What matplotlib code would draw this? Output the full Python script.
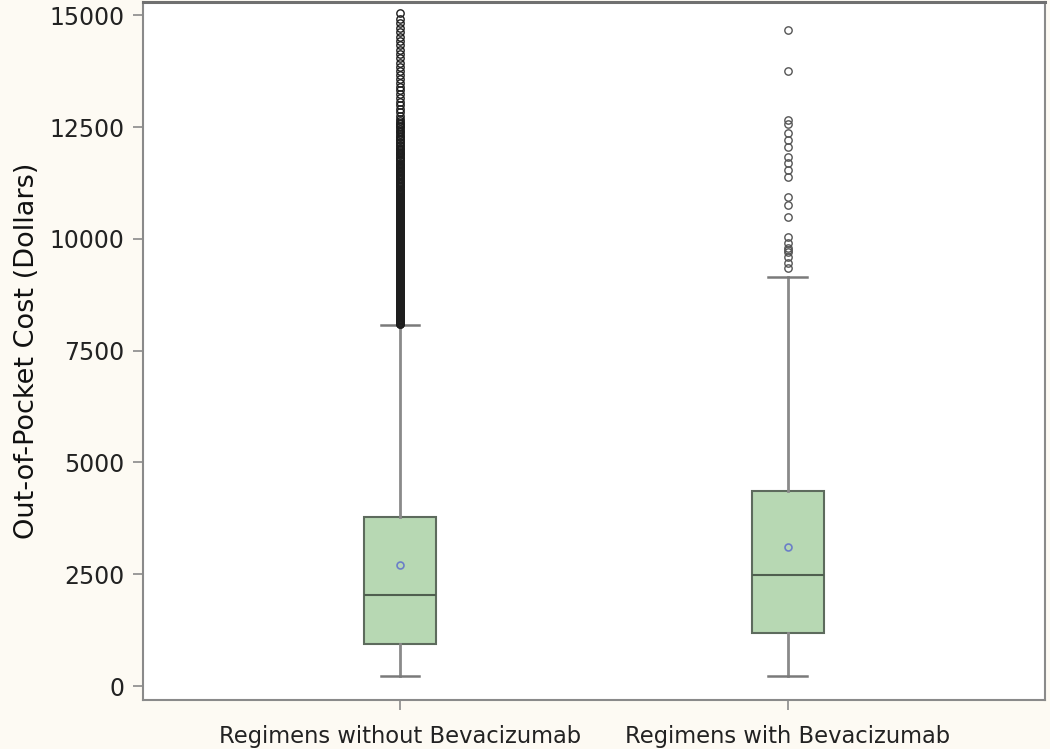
import matplotlib
matplotlib.use("Agg")
import matplotlib.pyplot as plt

categories = ["Regimens without Bevacizumab", "Regimens with Bevacizumab"]
q1 = [930, 1180]
median = [2035, 2480]
q3 = [3785, 4365]
mean = [2705, 3115]
whisker_low = [225, 225]
whisker_high = [8070, 9145]

outliers_without = [
    8085, 8095, 8110, 8125, 8140, 8160, 8175, 8190, 8200, 8215, 8230, 8250, 8265, 8280,
    8290, 8305, 8320, 8335, 8350, 8370, 8385, 8395, 8410, 8425, 8440, 8455, 8470, 8485,
    8500, 8520, 8535, 8545, 8560, 8575, 8590, 8610, 8625, 8640, 8650, 8665, 8680, 8695,
    8710, 8730, 8745, 8755, 8770, 8785, 8800, 8815, 8830, 8845, 8860, 8880, 8895, 8905,
    8920, 8935, 8950, 8970, 8985, 8995, 9010, 9025, 9040, 9055, 9070, 9085, 9100, 9120,
    9135, 9145, 9160, 9175, 9190, 9210, 9225, 9240, 9250, 9265, 9280, 9295, 9310, 9330,
    9345, 9355, 9370, 9385, 9400, 9415, 9430, 9445, 9460, 9480, 9495, 9505, 9520, 9535,
    9550, 9570, 9585, 9600, 9610, 9625, 9640, 9655, 9670, 9685, 9700, 9720, 9735, 9745,
    9760, 9775, 9790, 9810, 9825, 9840, 9850, 9865, 9880, 9895, 9910, 9930, 9945, 9955,
    9970, 9985, 10000, 10015, 10030, 10045, 10060, 10080, 10095, 10105, 10120, 10135,
    10150, 10170, 10185, 10200, 10210, 10225, 10240, 10255, 10270, 10285, 10300, 10320,
    10335, 10345, 10360, 10375, 10390, 10410, 10425, 10440, 10450, 10465, 10480, 10495,
    10510, 10530, 10545, 10555, 10570, 10585, 10600, 10620, 10640, 10660, 10680, 10695,
    10710, 10730, 10750, 10770, 10790, 10810, 10830, 10845, 10860, 10880, 10900, 10920,
    10940, 10960, 10980, 11000, 11020, 11040, 11060, 11080, 11100, 11125, 11150, 11170,
    11190, 11215, 11240, 11260, 11280, 11305, 11330, 11350, 11370, 11395, 11420, 11440,
    11460, 11485, 11510, 11535, 11560, 11580, 11600, 11625, 11650, 11675, 11700, 11730,
    11760, 11785, 11810, 11840, 11870, 11895, 11920, 11950, 11980, 12010, 12040, 12070,
    12100, 12135, 12170, 12205, 12240, 12270, 12300, 12340, 12380, 12415, 12450, 12490,
    12530, 12565, 12600, 12640, 12680, 12750, 12830, 12900, 12990, 13070, 13150, 13240,
    13320, 13400, 13490, 13580, 13660, 13750, 13850, 13940, 14040, 14130, 14230, 14330,
    14420, 14520, 14620, 14720, 14820, 14920, 15040,
]
outliers_with = [
    9340, 9450, 9600, 9700, 9750, 9800, 9900, 10040, 10490, 10750, 10940, 11390, 11530,
    11690, 11830, 12060, 12210, 12360, 12560, 12650, 13750, 14680,
]
y_ticks = [0, 2500, 5000, 7500, 10000, 12500, 15000]

fig = plt.figure(figsize=(10.5, 7.49), dpi=100, facecolor="#fdfaf3")
ax = fig.add_axes([0.136, 0.0654, 0.859, 0.9316])
ax.set_facecolor("white")

stats = []
for i, lab in enumerate(categories):
    stats.append(dict(label=lab, q1=q1[i], med=median[i], q3=q3[i], mean=mean[i],
                      whislo=whisker_low[i], whishi=whisker_high[i],
                      fliers=[outliers_without, outliers_with][i]))

res = ax.bxp(stats, positions=[1, 2], widths=0.186, showmeans=True, patch_artist=True,
             capwidths=0.1,
             boxprops=dict(facecolor="#b7d8b3", edgecolor="#5d6b5d", linewidth=1.5),
             medianprops=dict(color="#4f5f4f", linewidth=1.5),
             whiskerprops=dict(color="#8a8a8a", linewidth=2),
             capprops=dict(color="#7a7a7a", linewidth=1.8),
             meanprops=dict(marker="o", markerfacecolor="none", markeredgecolor="#6b7fc8",
                            markersize=5, markeredgewidth=1.2),
             flierprops=dict(marker="o", markerfacecolor="none", markeredgecolor="#555555",
                             markersize=5.3, markeredgewidth=1.0))
res["fliers"][0].set_markeredgecolor("#1e1e1e")

ax.set_xlim(0.337, 2.663)
ax.set_ylim(-313, 15290)
ax.set_yticks(y_ticks)
ax.set_yticklabels([str(v) for v in y_ticks])
ax.set_xticks([1, 2])
ax.set_xticklabels(categories)
ax.tick_params(axis="both", colors="#8a8a8a", labelcolor="#222222",
               length=7, width=1.2)
ax.tick_params(axis="y", labelsize=17, pad=6)
ax.tick_params(axis="x", labelsize=16.3, pad=11)
ax.set_ylabel("Out-of-Pocket Cost (Dollars)", fontsize=19.5, color="#111111", labelpad=7)
for s in ["left", "bottom", "right"]:
    ax.spines[s].set_color("#8a8a8a")
    ax.spines[s].set_linewidth(1.5)
ax.spines["top"].set_color("#707070")
ax.spines["top"].set_linewidth(2.2)

fig.savefig("out.png", dpi=100, facecolor=fig.get_facecolor())
